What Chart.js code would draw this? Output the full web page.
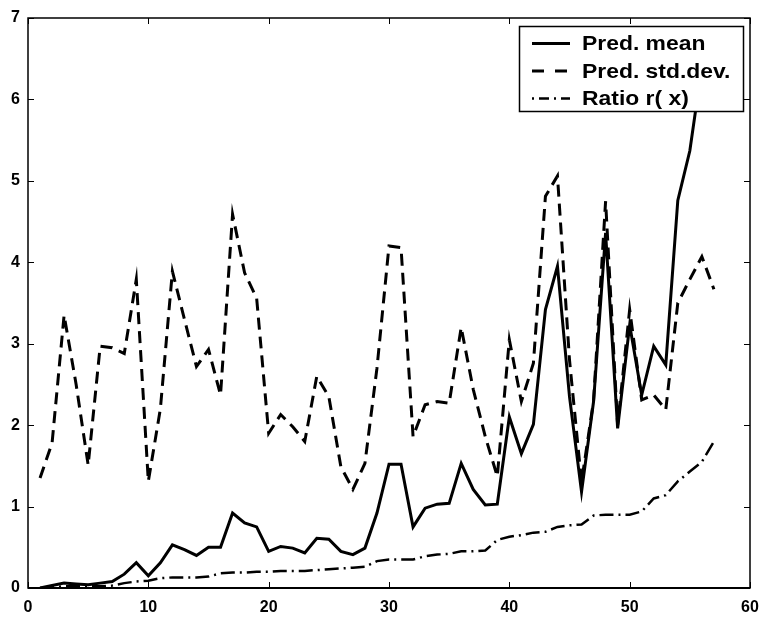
<!DOCTYPE html>
<html>
<head>
<meta charset="utf-8">
<script src="https://cdn.jsdelivr.net/npm/chart.js@4/dist/chart.umd.min.js"></script>
<style>
  body { margin: 0; background: #fff; }
</style>
</head>
<body>
<canvas id="pred-chart" width="762" height="617"></canvas>
<script>
// sample index 1..57
const runs = Array.from({ length: 57 }, (_, i) => i + 1);

const predMean = [
  0.00, 0.03, 0.06, 0.05, 0.04, 0.06, 0.08, 0.17, 0.31, 0.15,
  0.31, 0.53, 0.47, 0.40, 0.50, 0.50, 0.92, 0.80, 0.75, 0.45,
  0.51, 0.49, 0.43, 0.61, 0.60, 0.45, 0.41, 0.49, 0.92, 1.52,
  1.52, 0.75, 0.98, 1.03, 1.04, 1.53, 1.21, 1.02, 1.03, 2.10,
  1.65, 2.01, 3.42, 3.95, 2.35, 1.18, 2.29, 4.36, 1.96, 3.23,
  2.37, 2.97, 2.74, 4.76, 5.37, 6.40, 6.80
];

const predStd = [
  1.35, 1.78, 3.35, 2.50, 1.51, 2.97, 2.95, 2.88, 3.79, 1.31,
  2.20, 3.89, 3.30, 2.72, 2.93, 2.37, 4.59, 3.87, 3.56, 1.90,
  2.13, 1.98, 1.80, 2.60, 2.35, 1.49, 1.21, 1.53, 2.70, 4.20,
  4.18, 1.86, 2.25, 2.29, 2.27, 3.20, 2.44, 1.86, 1.37, 3.05,
  2.29, 2.76, 4.81, 5.06, 2.80, 1.30, 2.30, 4.75, 2.00, 3.42,
  2.31, 2.37, 2.19, 3.50, 3.79, 4.07, 3.67
];

const ratio = [
  0.00, 0.01, 0.02, 0.02, 0.02, 0.02, 0.03, 0.06, 0.08, 0.09,
  0.12, 0.13, 0.13, 0.13, 0.14, 0.18, 0.19, 0.19, 0.20, 0.20,
  0.21, 0.21, 0.21, 0.22, 0.23, 0.24, 0.25, 0.26, 0.33, 0.35,
  0.35, 0.35, 0.39, 0.41, 0.42, 0.45, 0.45, 0.46, 0.59, 0.63,
  0.65, 0.68, 0.69, 0.75, 0.77, 0.78, 0.89, 0.90, 0.90, 0.90,
  0.94, 1.10, 1.14, 1.31, 1.43, 1.55, 1.80
];

const seriesLabels = ['Pred. mean', 'Pred. std.dev.', 'Ratio r( x)'];
const xTicks = [0, 10, 20, 30, 40, 50, 60];
const yTicks = [0, 1, 2, 3, 4, 5, 6, 7];

const fontFamily = '"Liberation Sans", Arial, sans-serif';

const toPoints = (vals) => vals.map((v, i) => ({ x: runs[i], y: v }));

// matlab style box: frame, inward ticks on all sides, legend inside the axes
const matlabBox = {
  id: 'matlabBox',
  afterDatasetsDraw(chart) {
    const ctx = chart.ctx;
    const a = chart.chartArea;
    const xs = chart.scales.x;
    const ys = chart.scales.y;
    const tick = 6;
    ctx.save();
    ctx.strokeStyle = '#000';
    ctx.lineWidth = 1.5;
    ctx.setLineDash([]);
    ctx.strokeRect(a.left, a.top, a.right - a.left, a.bottom - a.top);
    ctx.beginPath();
    xTicks.forEach((v) => {
      const px = Math.round(xs.getPixelForValue(v)) + 0.5;
      ctx.moveTo(px, a.bottom); ctx.lineTo(px, a.bottom - tick);
      ctx.moveTo(px, a.top); ctx.lineTo(px, a.top + tick);
    });
    yTicks.forEach((v) => {
      const py = Math.round(ys.getPixelForValue(v)) + 0.5;
      ctx.moveTo(a.left, py); ctx.lineTo(a.left + tick, py);
      ctx.moveTo(a.right, py); ctx.lineTo(a.right - tick, py);
    });
    ctx.lineWidth = 1;
    ctx.stroke();
    ctx.lineWidth = 2;
    ctx.beginPath();
    ctx.moveTo(a.left, a.bottom); ctx.lineTo(a.right, a.bottom);
    ctx.stroke();

    // legend
    const box = { left: 519.5, top: 26.5, right: 743.5, bottom: 111.5 };
    ctx.fillStyle = '#fff';
    ctx.fillRect(box.left, box.top, box.right - box.left, box.bottom - box.top);
    ctx.lineWidth = 1.5;
    ctx.strokeRect(box.left, box.top, box.right - box.left, box.bottom - box.top);
    const rows = [43.5, 71, 98.5];
    ctx.font = 'bold 21px ' + fontFamily;
    ctx.textBaseline = 'middle';
    ctx.textAlign = 'left';
    chart.data.datasets.forEach((ds, i) => {
      ctx.beginPath();
      ctx.lineWidth = ds.borderWidth;
      ctx.setLineDash(ds.legendDash || []);
      ctx.moveTo(532, rows[i]);
      ctx.lineTo(570, rows[i]);
      ctx.stroke();
      ctx.setLineDash([]);
      ctx.fillStyle = '#000';
      ctx.save();
      ctx.translate(582, rows[i] + 1);
      ctx.scale(1.09, 1);
      ctx.fillText(ds.label, 0, 0);
      ctx.restore();
    });
    ctx.restore();
  }
};

new Chart(document.getElementById('pred-chart'), {
  type: 'line',
  data: {
    datasets: [
      {
        label: seriesLabels[0],
        data: toPoints(predMean),
        borderColor: '#000',
        borderWidth: 3,
        pointRadius: 0,
        fill: false,
        tension: 0
      },
      {
        label: seriesLabels[1],
        data: toPoints(predStd),
        borderColor: '#000',
        borderWidth: 3,
        borderDash: [12, 7],
        legendDash: [12, 11],
        pointRadius: 0,
        fill: false,
        tension: 0
      },
      {
        label: seriesLabels[2],
        data: toPoints(ratio),
        borderColor: '#000',
        borderWidth: 2.5,
        borderDash: [14, 5, 2, 5],
        legendDash: [2, 5, 10, 5],
        pointRadius: 0,
        fill: false,
        tension: 0
      }
    ]
  },
  options: {
    responsive: false,
    animation: false,
    layout: { padding: { top: 18, right: 12, left: 0, bottom: 0 } },
    plugins: {
      legend: { display: false },
      tooltip: { enabled: false }
    },
    scales: {
      x: {
        type: 'linear',
        min: 0,
        max: 60,
        afterBuildTicks: (scale) => { scale.ticks = xTicks.map((v) => ({ value: v })); },
        afterFit: (scale) => { scale.height = 29; scale.paddingLeft = 0; scale.paddingRight = 0; },
        grid: { display: false, drawTicks: false },
        border: { display: false },
        ticks: { color: '#000', font: { family: fontFamily, size: 16, weight: 'bold' }, padding: 10, maxRotation: 0 }
      },
      y: {
        min: 0,
        max: 7,
        afterBuildTicks: (scale) => { scale.ticks = yTicks.map((v) => ({ value: v })); },
        afterFit: (scale) => { scale.width = 28; scale.paddingTop = 0; scale.paddingBottom = 0; },
        grid: { display: false, drawTicks: false },
        border: { display: false },
        ticks: { color: '#000', font: { family: fontFamily, size: 16, weight: 'bold' }, padding: 8 }
      }
    }
  },
  plugins: [matlabBox]
});
</script>
</body>
</html>
